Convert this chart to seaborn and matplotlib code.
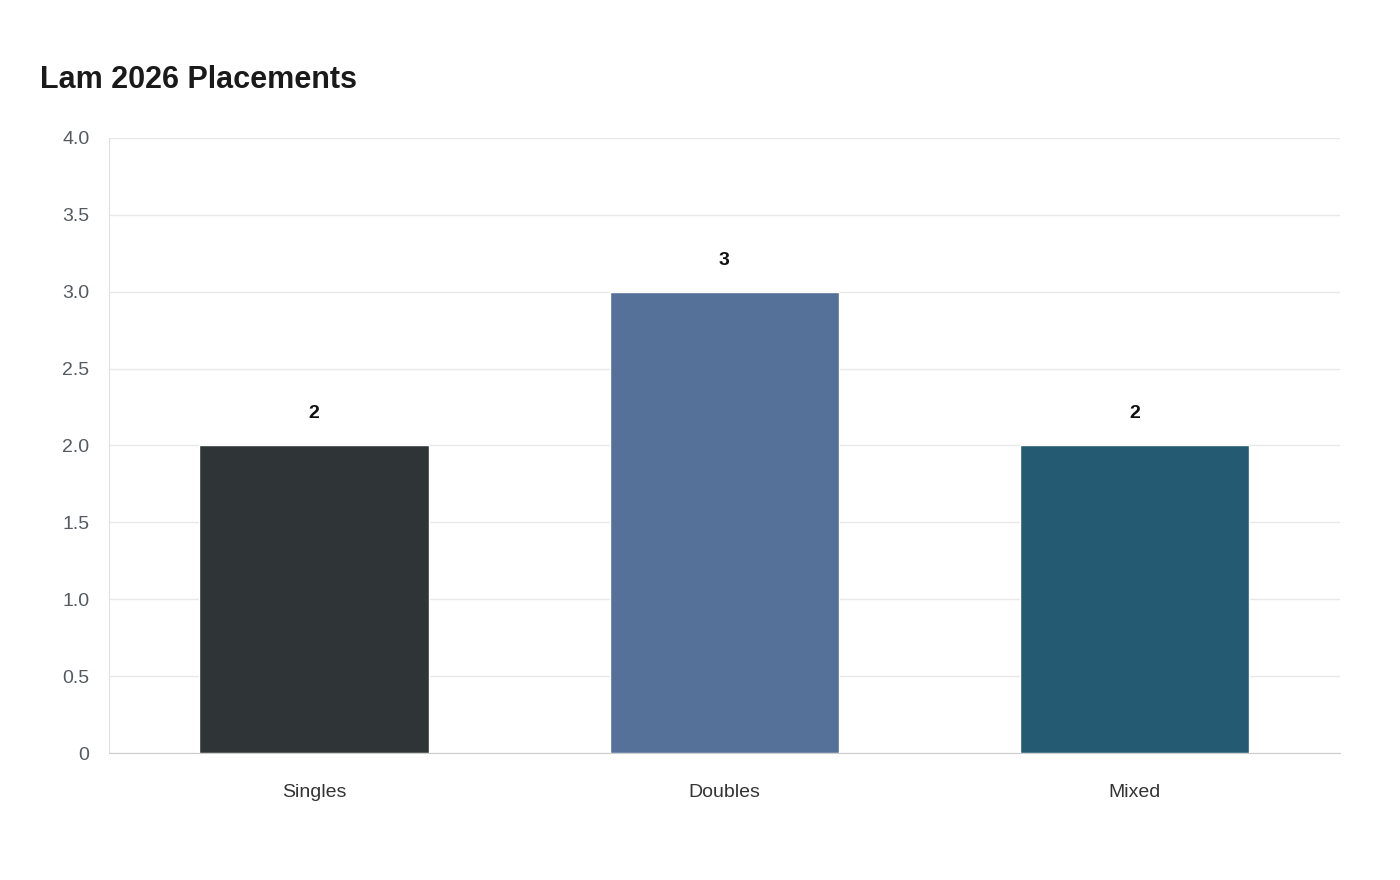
import matplotlib
matplotlib.use("Agg")
import matplotlib.pyplot as plt
import matplotlib.ticker as mticker
import seaborn as sns
import pandas as pd

categories = ["Singles", "Doubles", "Mixed"]
placements = [2, 3, 2]
colors = ["#2e3538", "#4a6fa5", "#17607f"]

df = pd.DataFrame({"Event": categories, "Placements": placements})

sns.set_style("white")
plt.rcParams["font.family"] = ["Liberation Sans", "DejaVu Sans"]

fig = plt.figure(figsize=(14, 8.8), dpi=100)
ax = fig.add_axes([0.0779, 0.1443, 0.879, 0.6989])

sns.barplot(data=df, x="Event", y="Placements", hue="Event", palette=colors,
            width=0.56, legend=False, ax=ax, zorder=3)

for i, v in enumerate(placements):
    ax.text(i, v + 0.15, str(v), ha="center", va="bottom",
            fontsize=14, fontweight="bold", color="#111111")

ax.set_xlim(-0.5, 2.5)
ax.set_ylim(0, 4)
ax.set_yticks([0, 0.5, 1, 1.5, 2, 2.5, 3, 3.5, 4])
ax.yaxis.set_major_formatter(mticker.FuncFormatter(lambda v, p: "0" if v == 0 else f"{v:.1f}"))
ax.grid(axis="y", color="#e8e8e8", linewidth=1, zorder=0)
ax.set_xlabel("")
ax.set_ylabel("")
for s in ["top", "right"]:
    ax.spines[s].set_visible(False)
ax.spines["left"].set_color("#e0e0e0")
ax.spines["bottom"].set_color("#cccccc")
ax.tick_params(axis="y", labelsize=14, labelcolor="#555a60", length=8, color="#e0e0e0", pad=6)
ax.tick_params(axis="x", labelsize=14, labelcolor="#333333", length=0, pad=22)

fig.text(40 / 1400, 1 - 80 / 880, "Lam 2026 Placements", fontsize=22,
         fontweight="bold", color="#1a1a1a", va="center", ha="left")

fig.savefig("out.png", dpi=100)
